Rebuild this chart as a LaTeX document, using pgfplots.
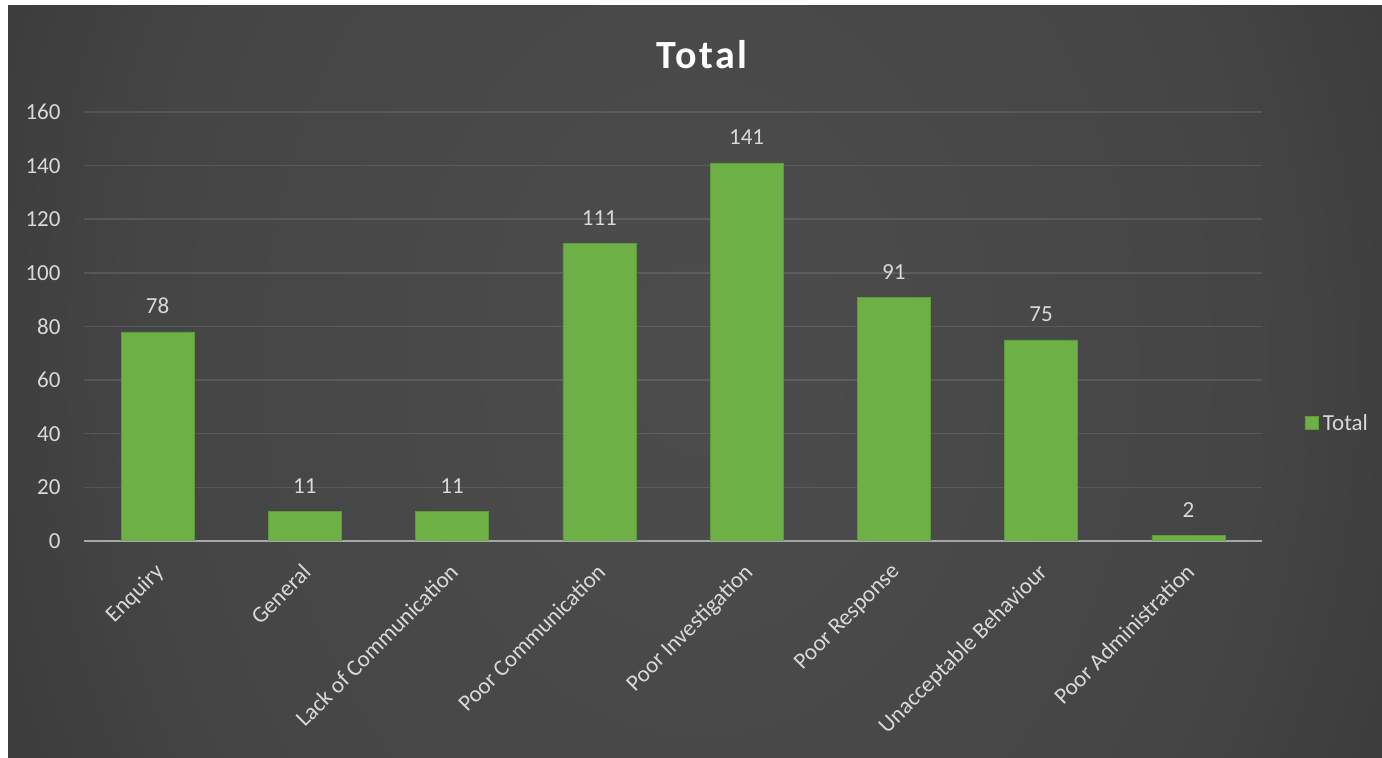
\documentclass[border=0pt]{standalone}
\usepackage{pgfplots}
\pgfplotsset{compat=1.18}
\usepackage{fontspec}
\setmainfont{Carlito}
\definecolor{txt}{RGB}{217,217,217}
\definecolor{barL}{RGB}{108,176,70}
\definecolor{barM}{RGB}{130,198,94}
\definecolor{barE}{RGB}{92,156,54}
\definecolor{zeroc}{RGB}{166,166,166}
\pgfdeclareradialshading{bgshade}{\pgfpoint{0bp}{0bp}}{rgb(0bp)=(0.30,0.30,0.30); rgb(20bp)=(0.27,0.27,0.27); rgb(40bp)=(0.17,0.17,0.17); rgb(55bp)=(0.15,0.15,0.15)}
\begin{document}
\begin{tikzpicture}
\fill[white] (0,0) rectangle (1382bp,758bp);
\begin{scope}
\clip (8bp,0bp) rectangle (1382bp,752bp);
\shade[shading=bgshade] (700bp-700bp,400bp-900bp) rectangle (700bp+700bp,400bp+900bp);
\end{scope}
\node[text=white, font=\fontsize{40bp}{44bp}\selectfont\bfseries\addfontfeatures{LetterSpace=6}] at (702bp,703bp) {Total};
\begin{axis}[
  at={(84bp,217bp)}, anchor=south west,
  scale only axis, width=1178bp, height=429bp,
  xmin=-0.5, xmax=7.5, ymin=0, ymax=160,
  ytick={0,20,...,160},
  xtick={0,...,7},
  xticklabels={Enquiry,General,Lack of Communication,Poor Communication,Poor Investigation,Poor Response,Unacceptable Behaviour,Poor Administration},
  axis x line=bottom, axis y line=left,
  y axis line style={draw=none},
  x axis line style={draw=zeroc, line width=2bp, -},
  major tick length=0pt,
  ymajorgrids, major grid style={draw=white, draw opacity=0.1, line width=1.5bp},
  tick label style={text=txt, font=\fontsize{23bp}{27bp}\selectfont},
  /pgf/number format/assume math mode=true,
  yticklabel style={anchor=east, xshift=-20bp},
  xticklabel style={xshift=-4bp, yshift=-21bp, rotate=45, anchor=north east, inner sep=0pt},
  ybar, bar width=73bp,
  nodes near coords,
  every node near coord/.append style={text=txt, font=\fontsize{23bp}{27bp}\selectfont, anchor=base, inner sep=0pt, yshift=18bp},
  legend style={at={(1.036,0.275)}, anchor=west, draw=none, fill=none, text=txt, font=\fontsize{23bp}{27bp}\selectfont, inner sep=0pt},
  legend image code/.code={\fill[barM, draw=barE] (0bp,-6.5bp) rectangle (13bp,6.5bp);},
  legend cell align=left,
]
\addplot[draw=barE, left color=barL, middle color=barM, right color=barL] coordinates {
(0,78) (1,11) (2,11) (3,111) (4,141) (5,91) (6,75) (7,2)};
\addlegendentry{\hspace{3bp}Total}
\end{axis}
\pgfresetboundingbox
\useasboundingbox (0,0) rectangle (1382bp,758bp);
\end{tikzpicture}
\end{document}
